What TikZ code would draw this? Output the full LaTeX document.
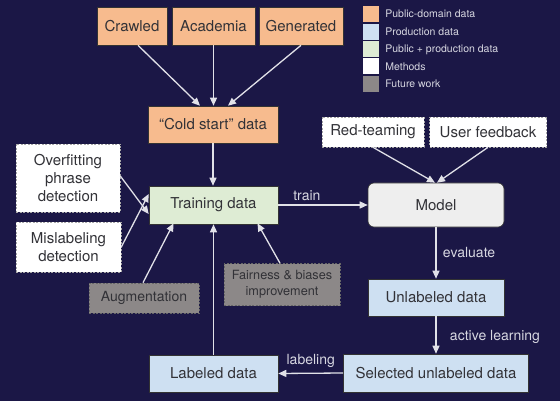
\documentclass[tikz,border=0pt]{standalone}
\usepackage{fontspec}
\setmainfont{TeX Gyre Heros}
\usetikzlibrary{arrows.meta,positioning}
\definecolor{bg}{RGB}{27,23,70}
\definecolor{orangefill}{RGB}{247,187,142}
\definecolor{bluefill}{RGB}{206,224,242}
\definecolor{greenfill}{RGB}{222,236,212}
\definecolor{grayfill}{RGB}{140,136,136}
\definecolor{modelfill}{RGB}{238,238,238}
\definecolor{txt}{RGB}{50,50,55}
\definecolor{arr}{RGB}{225,225,232}
\definecolor{lbl}{RGB}{215,215,225}
\tikzset{
  x=1pt, y=-1pt,
  box/.style={draw=black!80, line width=0.6pt, text=txt, align=center, inner sep=2pt,
    font=\fontsize{15}{18}\selectfont},
  pub/.style={box, fill=orangefill},
  prod/.style={box, fill=bluefill},
  mixd/.style={box, fill=greenfill},
  meth/.style={box, fill=white, draw=black!35, dash pattern=on 2pt off 1.5pt},
  futr/.style={box, fill=grayfill, draw=black!60, dash pattern=on 2pt off 1.5pt},
  conn/.style={draw=arr, line width=1.3pt, -{Triangle[width=7pt,length=8pt]}},
  elabel/.style={text=lbl, font=\fontsize{14}{16}\selectfont},
  legsq/.style={minimum width=16pt, minimum height=16pt, inner sep=0pt, draw=none},
  legtx/.style={text=lbl, font=\fontsize{10.5}{12}\selectfont, anchor=west, inner sep=0pt},
}
\begin{document}
\begin{tikzpicture}
\fill[bg] (0,0) rectangle (560,401);
\useasboundingbox (0,0) rectangle (560,401);

% public-domain sources
\node[pub, minimum width=70pt, minimum height=38pt] (crawled) at (132,26) {Crawled};
\node[pub, minimum width=83pt, minimum height=38pt] (academia) at (213.5,26) {Academia};
\node[pub, minimum width=84pt, minimum height=38pt] (generated) at (301,26) {Generated};
\node[pub, minimum width=130pt, minimum height=37pt] (cold) at (213,124.5) {“Cold start” data};

% training
\node[mixd, minimum width=129pt, minimum height=38pt] (train) at (213.5,205) {Training data};

% methods
\node[meth, minimum width=104pt, minimum height=68pt] (overfit) at (68,178) {Overfitting\\phrase\\detection};
\node[meth, minimum width=105pt, minimum height=50pt] (mislab) at (68.5,247) {Mislabeling\\detection};
\node[futr, minimum width=110pt, minimum height=30pt, font=\fontsize{14}{16}\selectfont] (augm) at (144,298) {Augmentation};
\node[futr, minimum width=116pt, minimum height=42pt, font=\fontsize{12.7}{16}\selectfont] (fair) at (282,284.5) {Fairness \& biases\\improvement};
\node[meth, minimum width=102pt, minimum height=30pt] (red) at (373,132) {Red-teaming};
\node[meth, minimum width=117pt, minimum height=30pt] (user) at (488,132) {User feedback};

% model and production data
\node[box, fill=modelfill, rounded corners=6pt, minimum width=136pt, minimum height=44pt] (model) at (436,205) {Model};
\node[prod, minimum width=136pt, minimum height=37pt] (unlab) at (436,297.5) {Unlabeled data};
\node[prod, minimum width=185pt, minimum height=38pt] (sel) at (436,373) {Selected unlabeled data};
\node[prod, minimum width=129pt, minimum height=37pt] (lab) at (213.5,373.5) {Labeled data};

% connectors
\draw[conn] ([xshift=6pt]crawled.south) -- ([xshift=-13pt]cold.north);
\draw[conn] (academia.south) -- (academia.south |- cold.north);
\draw[conn] (generated.south) -- ([xshift=15pt]cold.north);
\draw[conn] (cold.south) -- (cold.south |- train.north);
\draw[conn] ([yshift=2pt]overfit.east) -- ([yshift=-9pt]train.west);
\draw[conn] (mislab.east) -- ([yshift=11pt]train.west);
\draw[conn] ([xshift=-1pt]augm.north) -- ([xshift=-40pt,yshift=1pt]train.south);
\draw[conn] (lab.north) -- (lab.north |- train.south);
\draw[conn] ([xshift=-2pt]fair.north) -- ([xshift=44pt,yshift=1pt]train.south);
\draw[conn] (train.east) -- node[elabel, above, pos=0.32] {train} (model.west);
\draw[conn] (red.south) -- ([xshift=-1pt]model.north);
\draw[conn] (user.south) -- ([xshift=1pt]model.north);
\draw[conn] (model.south) -- node[elabel, right, xshift=3pt] {evaluate} (unlab.north);
\draw[conn] (unlab.south) -- node[elabel, right, xshift=10pt, yshift=-2pt] {active learning} (sel.north);
\draw[conn] (sel.west) -- node[elabel, above, yshift=2pt] {labeling} (lab.east);

% legend
\node[legsq, fill=orangefill] (l1) at (371,14) {};
\node[legsq, fill=bluefill] (l2) at (371,32) {};
\node[legsq, fill=greenfill] (l3) at (371,49.5) {};
\node[legsq, fill=white] (l4) at (371,66.5) {};
\node[legsq, fill=grayfill] (l5) at (371,84) {};
\node[legtx, right=6pt of l1] (t1) {Public-domain data};
\node[legtx, right=6pt of l2] (t2) {Production data};
\node[legtx, right=6pt of l3] (t3) {Public + production data};
\node[legtx, right=6pt of l4] (t4) {Methods};
\node[legtx, right=6pt of l5] (t5) {Future work};
\end{tikzpicture}
\end{document}
